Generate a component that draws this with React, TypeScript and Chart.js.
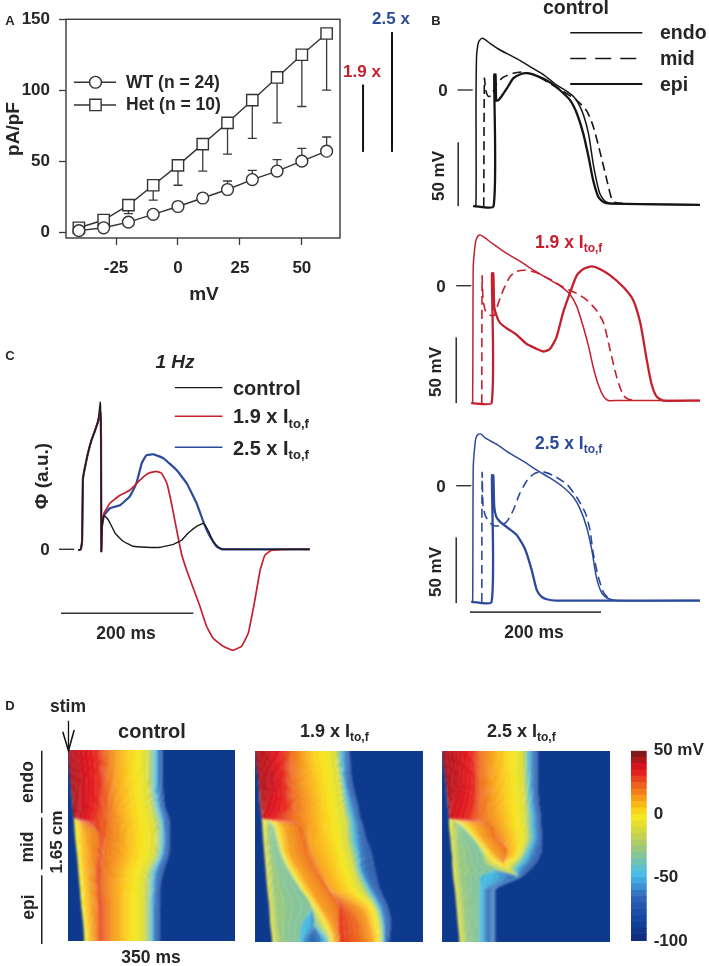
import React, { useEffect, useRef } from "react";
import { Chart, registerables } from "chart.js";
Chart.register(...registerables);

type Pair = [number, number];

/* ---------- Panel A ---------- */
const voltages = [-40, -30, -20, -10, 0, 10, 20, 30, 40, 50, 60];
const wtMean = [1, 3, 7, 12.5, 18, 24, 30, 37, 43, 50, 57];
const hetMean = [3, 8.5, 19, 33, 47, 62, 77, 93, 109, 125, 140];
const wtUpper = [null, null, 10, 15, 20, 27, 36, 43.5, 51, 59, 67];
const hetLower = [null, null, 13, 22.5, 33, 43, 55, 66, 77, 88.5, 100];
const fold19: Pair[] = [[74.7, 56.5], [74.7, 104]];
const fold25: Pair[] = [[86.4, 56.5], [86.4, 141]];
const legendWT: Pair[] = [[-42, 105.6], [-33.3, 105.6], [-25, 105.6]];
const legendHet: Pair[] = [[-42, 89.6], [-33.3, 89.6], [-25, 89.6]];

/* ---------- Panel B: [ms, mV] ---------- */
const ctrlEndo: Pair[] = [[5, -90], [9, -90], [9.2, -8], [10, 26], [12, 35], [14, 38], [18, 40], [23, 39], [31, 36], [46, 31], [61, 27], [76, 23], [92, 18], [112, 12], [132, 4], [148, -1], [158, -5], [165, -10], [173, -19], [181, -34], [188, -57], [193, -70], [198, -80], [204, -85], [209, -87], [219, -88], [351, -89]];
const ctrlMid: Pair[] = [[21, -90], [22, 9], [24, 0], [28, -5], [33, -4], [41, 5], [51, 10], [66, 13], [81, 14], [102, 11], [122, 5], [142, -1], [163, -8], [178, -16], [188, -28], [198, -47], [209, -70], [216, -84], [221, -87], [234, -88]];
const ctrlEpi: Pair[] = [[5, -90], [36, -90], [37, 12], [39, 12], [40, -8], [43, -8], [48, -5], [56, 1], [66, 9], [76, 12], [87, 13], [102, 11], [122, 6], [137, 0], [153, -8], [163, -18], [173, -34], [181, -52], [188, -70], [196, -83], [204, -87], [214, -88], [351, -89]];

const redEndo: Pair[] = [[2, -91], [4, -91], [4.5, -27], [5, 15], [7, 28], [9, 35], [13, 39], [17, 39], [23, 37], [36, 32], [56, 25], [76, 19], [97, 12], [117, 6], [137, 0], [153, -7], [163, -16], [173, -32], [181, -47], [188, -63], [196, -77], [204, -86], [211, -89], [224, -89], [351, -89]];
const redMid: Pair[] = [[18, -91], [18.5, 7.5], [20, -11], [24, -20], [31, -23], [37, -23], [43, -14], [51, -3], [61, 7], [71, 11], [84, 12], [102, 10], [122, 5], [142, -1], [163, -6], [178, -11], [193, -19], [204, -29], [214, -50], [224, -71], [234, -85], [242, -88], [254, -89]];
const redEpi: Pair[] = [[2, -91], [33, -91], [33.5, 9.6], [35.6, 9.6], [37, -16], [41, -24], [46, -29], [56, -33], [71, -38], [86, -45], [102, -49], [112, -51], [122, -49], [132, -40], [142, -21], [153, -5], [163, 8], [173, 13], [186, 15], [198, 13], [214, 8], [234, -1], [249, -11], [260, -29], [270, -58], [277, -76], [285, -86], [295, -89], [351, -89]];

const blueEndo: Pair[] = [[2, -90], [4, -90], [4.5, -27], [5, 15], [7, 29], [9, 37], [13, 40], [17, 40], [23, 37], [41, 32], [61, 25], [81, 19], [102, 12], [122, 6], [142, -1], [158, -9], [168, -18], [178, -32], [186, -50], [193, -71], [201, -83], [209, -87], [224, -89], [351, -89]];
const blueMid: Pair[] = [[18, -90], [18.5, 10], [20, -16], [24, -24], [31, -29], [37, -31], [46, -31], [56, -28], [66, -19], [76, -6], [87, 4], [97, 9], [109, 11], [127, 8], [148, 1], [163, -9], [176, -21], [183, -34], [188, -52], [196, -71], [204, -83], [211, -87]];
const blueEpi: Pair[] = [[2, -90], [33, -90], [33.5, 8], [35.6, 8], [37, -16], [40, -24], [46, -28], [56, -32], [71, -38], [84, -49], [94, -65], [102, -81], [109, -86], [117, -88], [132, -89], [351, -89]];

/* ---------- Panel C: [ms, a.u.] ---------- */
const phiRise: Pair[] = [[26, -0.01], [30, 0], [32, 0.09], [33, 0.69], [35, 0.78], [40, 0.94], [46, 1.09], [51, 1.18], [56, 1.28]];
const phiFall: Pair[] = [[60.5, 1.09], [61, -0.02], [62, 0.23]];
const phiControl: Pair[] = [[59.4, 1.47], ...phiFall, [65, 0.34], [72, 0.29], [82, 0.16], [94, 0.08], [109, 0.03], [129, 0.02], [150, 0.02], [170, 0.05], [182, 0.09], [192, 0.16], [205, 0.23], [216, 0.26], [223, 0.18], [230, 0.08], [238, 0.02], [245, 0], [376, 0]];
const phi19: Pair[] = [[59.4, 1.38], ...phiFall, [65, 0.36], [74, 0.46], [89, 0.54], [104, 0.59], [119, 0.69], [132, 0.76], [144, 0.78], [152, 0.76], [160, 0.66], [167, 0.46], [175, 0.19], [182, -0.04], [190, -0.21], [200, -0.39], [210, -0.57], [220, -0.77], [230, -0.89], [245, -0.97], [260, -1.01], [273, -0.97], [283, -0.84], [293, -0.51], [301, -0.21], [308, -0.06], [318, -0.01], [336, 0], [376, 0]];
const phi25: Pair[] = [[59.4, 1.36], ...phiFall, [65, 0.34], [74, 0.41], [89, 0.44], [104, 0.53], [114, 0.66], [122, 0.86], [129, 0.94], [140, 0.95], [155, 0.91], [175, 0.79], [190, 0.66], [205, 0.46], [216, 0.26], [225, 0.13], [235, 0.03], [243, 0], [376, 0]];

/* ---------- Panel D: isochrones, ms per depth row ---------- */
const navy = "#0e3a8e", cY = "#f6e81d", cOY = "#fbb917", cO = "#f28a1b", cRO = "#ea541e", cR = "#e2131d", cDR = "#b8141c";
const cYG = "#bdd253", cT = "#86c49a", cC = "#45b9e0", cB = "#2d5fb0";

const ctrlDepth = [0, 0.25, 0.5, 0.58, 0.62, 0.75, 0.9, 1.05, 1.2, 1.35, 1.5, 1.65];
const ctrlEdges = [
  [0, 0, 0, 0, 0, 0, 0, 0, 0, 0, 0, 0],
  [0, 5, 10, 12, 13, 15, 19, 22, 25, 28, 32, 34],
  [0, 5, 10, 12, 20, 25, 27, 30, 34, 36, 39, 41],
  [0, 5, 10, 12, 24, 38, 41, 43, 46, 48, 50, 52],
  [0, 5, 10, 12, 32, 67, 64, 60, 62, 64, 64, 64],
  [0, 5, 10, 12, 46, 67, 64, 60, 62, 64, 64, 64],
  [22, 29, 29, 22, 46, 67, 64, 60, 62, 64, 64, 64],
  [64, 67, 64, 57, 55, 67, 64, 60, 62, 64, 64, 64],
  [81, 83, 85, 85, 85, 81, 74, 74, 74, 78, 78, 78],
  [102, 102, 106, 109, 111, 113, 111, 102, 99, 99, 99, 99],
  [127, 129, 134, 137, 139, 141, 139, 127, 123, 122, 122, 122],
  [164, 165, 171, 176, 178, 181, 178, 162, 158, 157, 157, 157],
  [174, 174, 181, 186, 188, 190, 188, 171, 169, 168, 168, 168],
  [179, 179, 186, 192, 195, 196, 193, 178, 174, 172, 172, 172],
  [188, 188, 193, 199, 200, 202, 199, 185, 181, 179, 179, 179],
  [199, 199, 204, 211, 213, 214, 211, 200, 193, 193, 192, 192],
  [350, 350, 350, 350, 350, 350, 350, 350, 350, 350, 350, 350],
];
const ctrlColors = [navy, cY, cOY, cO, cRO, cDR, cR, cRO, cO, cOY, cY, cYG, cT, cC, cB, navy];
const ctrlSharp = [1, 5];

const dipColors = [navy, cY, cYG, cT, cC, cB, cC, cT, cYG, cY, cOY, cO, cRO, cDR, cR, cRO, cO, cOY, cY, cYG, cC, cB, navy];
const dipSharp = [1, 4, 13];

const x19Depth = [0, 0.25, 0.5, 0.58, 0.62, 0.75, 0.9, 1.05, 1.2, 1.35, 1.5, 1.65];
const x19Edges = [
  [0, 0, 0, 0, 0, 0, 0, 0, 0, 0, 0, 0],
  [0, 6, 10, 13, 14, 16, 19, 22, 25, 29, 31, 35],
  [0, 6, 10, 13, 21, 19, 22, 25, 28, 31, 34, 38],
  [0, 6, 10, 13, 28, 28, 31, 35, 38, 42, 45, 49],
  [0, 6, 10, 13, 29, 42, 52, 70, 94, 115, 97, 92],
  [0, 6, 10, 13, 29, 42, 52, 70, 94, 115, 122, 103],
  [0, 6, 10, 13, 29, 42, 52, 70, 94, 115, 122, 138],
  [0, 6, 10, 13, 29, 42, 52, 70, 94, 115, 122, 150],
  [0, 6, 10, 13, 29, 42, 52, 70, 94, 115, 132, 153],
  [0, 6, 10, 13, 33, 47, 57, 75, 97, 122, 141, 157],
  [0, 6, 10, 13, 40, 53, 61, 82, 103, 128, 149, 161],
  [0, 6, 10, 13, 49, 66, 73, 94, 115, 136, 157, 167],
  [0, 6, 10, 13, 77, 101, 111, 129, 153, 174, 174, 177],
  [0, 6, 10, 13, 77, 101, 111, 129, 153, 174, 174, 177],
  [31, 35, 21, 13, 77, 101, 111, 129, 153, 174, 174, 177],
  [59, 63, 66, 49, 77, 101, 111, 129, 153, 174, 174, 177],
  [77, 78, 84, 80, 87, 101, 111, 129, 153, 191, 216, 219],
  [101, 104, 115, 115, 118, 115, 125, 143, 161, 219, 237, 244],
  [122, 134, 143, 146, 146, 153, 164, 174, 191, 235, 247, 254],
  [166, 173, 181, 184, 187, 188, 195, 205, 219, 247, 258, 261],
  [175, 181, 191, 196, 198, 200, 209, 216, 233, 254, 264, 266],
  [187, 188, 203, 207, 210, 214, 219, 224, 242, 262, 270, 271],
  [198, 202, 216, 219, 223, 231, 244, 251, 261, 277, 284, 280],
  [350, 350, 350, 350, 350, 350, 350, 350, 350, 350, 350, 350],
];

const x25Depth = [0, 0.25, 0.5, 0.58, 0.62, 0.75, 0.855, 0.93, 0.98, 1.025, 1.09, 1.21, 1.5, 1.65];
const x25Edges = [
  [0, 0, 0, 0, 0, 0, 0, 0, 0, 0, 0, 0, 0, 0],
  [0, 6, 11, 13, 13, 16, 18, 20, 20, 21, 22, 26, 32, 35],
  [0, 6, 11, 13, 19, 19, 21, 22, 23, 24, 25, 29, 35, 38],
  [0, 6, 11, 13, 28, 29, 32, 33, 34, 35, 36, 40, 46, 49],
  [0, 6, 11, 13, 28, 61, 79, 86, 89, 107, 79, 77, 77, 77],
  [0, 6, 11, 13, 28, 61, 79, 86, 89, 107, 130, 89, 89, 89],
  [0, 6, 11, 13, 28, 61, 79, 86, 89, 107, 155, 103, 103, 103],
  [0, 6, 11, 13, 28, 61, 79, 86, 89, 107, 155, 103, 103, 103],
  [0, 6, 11, 13, 28, 61, 79, 86, 89, 107, 155, 103, 103, 103],
  [0, 6, 11, 13, 33, 64, 84, 96, 110, 138, 155, 103, 103, 103],
  [0, 6, 11, 13, 40, 70, 91, 105, 124, 138, 155, 103, 103, 103],
  [0, 6, 11, 13, 54, 82, 101, 117, 126, 138, 155, 103, 103, 103],
  [0, 6, 11, 13, 89, 110, 135, 131, 126, 138, 155, 103, 103, 103],
  [0, 6, 11, 13, 89, 110, 135, 131, 126, 138, 155, 103, 103, 103],
  [33, 36, 19, 13, 89, 110, 135, 131, 126, 138, 155, 103, 103, 103],
  [64, 68, 64, 57, 89, 110, 135, 131, 126, 138, 155, 103, 103, 103],
  [79, 80, 82, 79, 89, 110, 135, 131, 126, 138, 155, 103, 103, 103],
  [103, 105, 110, 114, 117, 131, 135, 131, 126, 138, 155, 103, 103, 103],
  [131, 133, 138, 142, 142, 152, 154, 145, 126, 138, 155, 103, 103, 103],
  [166, 166, 170, 170, 171, 173, 166, 157, 142, 138, 155, 103, 103, 103],
  [175, 177, 180, 182, 182, 184, 175, 166, 157, 148, 155, 103, 103, 103],
  [187, 187, 191, 194, 194, 196, 189, 182, 173, 163, 155, 103, 103, 103],
  [199, 199, 203, 206, 206, 208, 208, 201, 194, 184, 165, 110, 110, 110],
  [350, 350, 350, 350, 350, 350, 350, 350, 350, 350, 350, 350, 350, 350],
];

const stimStem: Pair[] = [[1, -0.26], [1, 0]];
const stimHead: Pair[] = [[-11, -0.165], [1, 0], [13, -0.18]];
const endoBar: Pair[] = [[-55, 0], [-55, 0.54]];
const midBar: Pair[] = [[-55, 0.58], [-55, 1.03]];
const epiBar: Pair[] = [[-55, 1.08], [-55, 1.675]];

const cbarLevels = [-100, -95, -90, -85, -80, -75, -70, -65, -60, -55, -50, -45, -40, -35, -30, -25, -20, -15, -10, -5, 0, 5, 10, 15, 20, 25, 30, 35, 40, 45, 50];
const cbarColors = ["#0f2f7e", "#10398c", "#123f96", "#16479e", "#1c4fa6", "#2457ad", "#2d62b6", "#3476c4", "#3b8fd2", "#43a8e0", "#4bbce8", "#5cc0d0", "#72c3ae", "#86c596", "#9ac97e", "#aecd66", "#c2d24f", "#d6d93c", "#e6e02c", "#f5e81e", "#f9d41a", "#f8b816", "#f59c18", "#f17e1a", "#ed611c", "#e8421d", "#e3201e", "#d4151d", "#ae171c", "#7f1a1c"];

/* ---------- helpers ---------- */
const W = 709, H = 966;
const FONT = "'Liberation Sans', Arial, sans-serif";
const INK = "#262626", RED = "#c5202e", BLUE = "#2b4a9b";

const toXY = (p: Pair[]) => p.map(([x, y]) => ({ x, y }));
const trace = (p: Pair[], color: string, width = 1.3, dash: number[] = [], tension = 0.2) => ({
  data: toXY(p), borderColor: color, borderWidth: width, borderDash: dash, pointRadius: 0,
  showLine: true, fill: false, tension, clip: false as any,
});
const box = (l: number, t: number, r: number, b: number) => ({ left: l, top: t, right: W - r, bottom: H - b });
const hiddenAxes = (xmin: number, xmax: number, ymin: number, ymax: number, rev = false) => ({
  x: { type: "linear", min: xmin, max: xmax, display: false },
  y: { type: "linear", min: ymin, max: ymax, display: false, reverse: rev },
});
const common = { responsive: false, animation: false, plugins: { legend: { display: false }, tooltip: { enabled: false } } };

function Plot({ config, blur, clip }: { config: any; blur?: number; clip?: string }) {
  const ref = useRef<HTMLCanvasElement>(null);
  useEffect(() => {
    const c = new Chart(ref.current!, config);
    return () => c.destroy();
  }, []);
  return <canvas ref={ref} width={W} height={H} style={{ position: "absolute", left: 0, top: 0, width: W, height: H, filter: blur ? `blur(${blur}px)` : undefined, clipPath: clip }} />;
}

function Txt({ x, y, size = 17, color = INK, rot = 0, align = "c", italic = false, children }: any) {
  const tx = align === "c" ? "-50%" : "0";
  return <div style={{ position: "absolute", left: x, top: y, fontFamily: FONT, fontWeight: 700, fontStyle: italic ? "italic" : "normal", fontSize: size, lineHeight: 1, color, whiteSpace: "nowrap", transform: `translate(${tx},-50%) rotate(${rot}deg)` }}>{children}</div>;
}
const Ito = ({ f, sub }: { f: string; sub: number }) => (
  <>{f} x I<span style={{ fontSize: sub, position: "relative", top: "0.35em" }}>to,f</span></>
);

/* ---------- chart configs ---------- */
const errorBars = {
  id: "errorBars",
  beforeDatasetsDraw(chart: any) {
    const { ctx, scales: { x, y } } = chart;
    ctx.save();
    ctx.strokeStyle = "#3a3a3a";
    ctx.lineWidth = 1.3;
    const draw = (means: number[], ends: (number | null)[]) => ends.forEach((e, i) => {
      if (e === null) return;
      const px = x.getPixelForValue(voltages[i]);
      ctx.beginPath();
      ctx.moveTo(px, y.getPixelForValue(means[i]));
      ctx.lineTo(px, y.getPixelForValue(e));
      ctx.moveTo(px - 4.5, y.getPixelForValue(e));
      ctx.lineTo(px + 4.5, y.getPixelForValue(e));
      ctx.stroke();
    });
    draw(wtMean, wtUpper);
    draw(hetMean, hetLower);
    ctx.restore();
  },
  afterDraw(chart: any) {
    const { ctx, chartArea: a } = chart;
    ctx.save();
    ctx.strokeStyle = "#3a3a3a";
    ctx.lineWidth = 1.4;
    ctx.strokeRect(a.left, a.top, a.right - a.left, a.bottom - a.top);
    ctx.restore();
  },
};
const tickFont = { family: FONT, weight: "bold", size: 17 };
const AXIS_W = 50, AXIS_H = 45, CBAR_W = 60;

const mk = (style: string, means: number[], r: number) => ({
  data: voltages.map((v, i) => ({ x: v, y: means[i] })),
  borderColor: "#333", borderWidth: 1.4, backgroundColor: "#fff", pointStyle: style,
  pointRadius: r, pointBackgroundColor: "#fff", pointBorderColor: "#333", pointBorderWidth: 1.4,
  showLine: true, fill: false, tension: 0, clip: false as any,
});
const mkLegend = (p: Pair[], style: string, r: number) => ({
  data: toXY(p), borderColor: "#333", borderWidth: 1.4, showLine: true, pointStyle: style,
  pointRadius: [0, r, 0], pointBackgroundColor: "#fff", pointBorderColor: "#333", pointBorderWidth: 1.4,
});

const chartA: any = {
  type: "scatter",
  data: {
    datasets: [
      mk("circle", wtMean, 5.9), mk("rect", hetMean, 8),
      mkLegend(legendWT, "circle", 5.9), mkLegend(legendHet, "rect", 8),
      trace(fold19, "#111", 2, [], 0), trace(fold25, "#111", 2, [], 0),
    ],
  },
  options: {
    ...common,
    layout: { padding: box(66 - AXIS_W, 19.3, 340, 238 + AXIS_H) },
    scales: {
      x: {
        type: "linear", min: -45.2, max: 65.4, afterFit: (s: any) => { s.height = AXIS_H; },
        grid: { drawOnChartArea: false, tickLength: 7, tickColor: "#3a3a3a", tickWidth: 1.3 },
        border: { display: false },
        ticks: { stepSize: 25, includeBounds: false, font: tickFont, color: INK, padding: 13, maxRotation: 0, autoSkip: false },
      },
      y: {
        type: "linear", min: -4.2, max: 150, afterFit: (s: any) => { s.width = AXIS_W; },
        grid: { drawOnChartArea: false, tickLength: 7, tickColor: "#3a3a3a", tickWidth: 1.3 },
        border: { display: false },
        ticks: { stepSize: 50, includeBounds: false, font: tickFont, color: INK, padding: 9, autoSkip: false },
      },
    },
  },
  plugins: [errorBars],
};

const apChart = (top: number, endo: Pair[], mid: Pair[], epi: Pair[], color: string, extras: any[] = []) => ({
  type: "scatter",
  data: {
    datasets: [
      trace(endo, color, 1.5),
      trace(mid, color, 1.6, [9, 5]),
      trace(epi, color, 2.3),
      ...extras,
    ],
  },
  options: {
    ...common,
    layout: { padding: box(470, top, 700, top + 180) },
    scales: hiddenAxes(0, 351.1, -93, 46.5),
  },
});

const zeroTick1: Pair[] = [[-19, 0], [4, 0]];
const voltBar1: Pair[] = [[-18, -90], [-18, -40.5]];
const zeroTick: Pair[] = [[-21, 0], [2, 0]];
const voltBar: Pair[] = [[-21, -91], [-21, -40]];
const timeBarB: Pair[] = [[0, -98], [200, -98]];
const legEndo: Pair[] = [[153, 44.4], [263, 44.4]];
const legMid: Pair[] = [[153, 24.5], [263, 24.5]];
const legEpi: Pair[] = [[153, 4.6], [263, 4.6]];

const chartB1: any = apChart(30, ctrlEndo, ctrlMid, ctrlEpi, "#151515", [
  trace(zeroTick1, "#333", 1.4, [], 0), trace(voltBar1, "#333", 1.6, [], 0),
  trace(legEndo, "#151515", 1.6, [], 0), trace(legMid, "#151515", 1.5, [16, 9], 0), trace(legEpi, "#151515", 2, [], 0),
]);
const chartB2: any = apChart(225.7, redEndo, redMid, redEpi, RED, [
  trace(zeroTick, "#333", 1.4, [], 0), trace(voltBar, "#333", 1.6, [], 0),
]);
const chartB3: any = apChart(425.7, blueEndo, blueMid, blueEpi, BLUE, [
  trace(zeroTick, "#333", 1.4, [], 0), trace(voltBar, "#333", 1.6, [], 0), trace(timeBarB, "#444", 1.6, [], 0),
]);

const zeroTickC: Pair[] = [[-3, 0], [20, 0]];
const timeBarC: Pair[] = [[0, -0.64], [200, -0.64]];
const legC0: Pair[] = [[172, 1.617], [244, 1.617]];
const legC1: Pair[] = [[172, 1.33], [244, 1.33]];
const legC2: Pair[] = [[172, 1.02], [244, 1.02]];

const chartC: any = {
  type: "scatter",
  data: {
    datasets: [
      trace([...phiRise, ...phiControl], "#1a1a1a", 1.4, [], 0.1),
      trace([...phiRise, ...phi19], RED, 1.7, [], 0.1),
      trace([...phiRise, ...phi25], BLUE, 2.2, [], 0.1),
      trace(zeroTickC, "#333", 1.4, [], 0), trace(timeBarC, "#333", 1.6, [], 0),
      trace(legC0, "#1a1a1a", 1.4, [], 0), trace(legC1, RED, 1.5, [], 0), trace(legC2, BLUE, 1.5, [], 0),
    ],
  },
  options: {
    ...common,
    layout: { padding: box(61, 395, 310, 660) },
    scales: hiddenAxes(0, 376.4, -1.107, 1.543),
  },
};

/* Each band between two isochrones is shaded by blending towards its neighbour colours. */
const rgb = (h: string) => [1, 3, 5].map((i) => parseInt(h.slice(i, i + 2), 16));
const hex = (c: number[]) => "#" + c.map((v) => Math.round(v).toString(16).padStart(2, "0")).join("");
const blend = (a: string, b: string, f: number) => {
  const A = rgb(a), B = rgb(b);
  return hex(A.map((v, i) => v + (B[i] - v) * f));
};
const SUB = 4;
const HEAT_W = 167, HEAT_H = 190.3, PAD_T = 5, PAD_D = 0.05;

function heat(left: number, top: number, depth: number[], edges: number[][], colors: string[], sharp: number[]): any {
  const rows = [-PAD_D, ...depth, 1.65 + PAD_D];
  const datasets: any[] = [];
  const push = (line: number[], color: string | null) => datasets.push({
    data: line.map((t, k) => ({ x: t, y: rows[k] })),
    fill: color ? "-1" : false,
    backgroundColor: color || "transparent",
    borderWidth: 0, borderColor: "transparent", pointRadius: 0, cubicInterpolationMode: "monotone",
  });
  const widen = (e: number[]) => [e[0], ...e, e[e.length - 1]];
  const last = edges.length - 1;
  push(rows.map(() => -PAD_T), null);
  colors.forEach((c, i) => {
    const a = widen(edges[i]), b = widen(edges[i + 1]);
    if (i === 0) { push(b, c); return; }
    if (i === last - 1) { push(rows.map(() => 350 + PAD_T), c); return; }
    const leftC = sharp.includes(i) ? c : blend(colors[i - 1], c, 0.5);
    const rightC = sharp.includes(i + 1) || i + 1 === last - 1 ? c : blend(c, colors[i + 1], 0.5);
    for (let k = 0; k < SUB; k++) {
      const p = (k + 0.5) / SUB;
      const col = p < 0.5 ? blend(leftC, c, p * 2) : blend(c, rightC, (p - 0.5) * 2);
      const f = (k + 1) / SUB;
      push(a.map((v, r) => v + (b[r] - v) * f), col);
    }
  });
  const mx = (PAD_T * HEAT_W) / 350, my = (PAD_D * HEAT_H) / 1.65;
  return {
    type: "line",
    data: { datasets },
    options: {
      ...common,
      indexAxis: "y",
      layout: { padding: box(left - mx, top - my, left + HEAT_W + mx, top + HEAT_H + my) },
      scales: hiddenAxes(-PAD_T, 350 + PAD_T, -PAD_D, 1.65 + PAD_D, true),
    },
  };
}
const heatClip = (left: number, top: number) => `inset(${top}px ${W - left - HEAT_W}px ${H - top - HEAT_H}px ${left}px)`;

const chartAnno: any = {
  type: "scatter",
  data: {
    datasets: [
      trace(stimStem, "#111", 1.3, [], 0), trace(stimHead, "#111", 1.5, [], 0),
      trace(endoBar, "#222", 1.5, [], 0), trace(midBar, "#222", 1.5, [], 0), trace(epiBar, "#222", 1.5, [], 0),
    ],
  },
  options: { ...common, layout: { padding: box(68, 750.7, 235, 941) }, scales: hiddenAxes(0, 350, 0, 1.65, true) },
};

const chartBar: any = {
  type: "bar",
  data: {
    labels: ["mV"],
    datasets: cbarColors.map((c, i) => ({
      data: [[cbarLevels[i], cbarLevels[i + 1]]], backgroundColor: c, borderWidth: 0,
      categoryPercentage: 1, barPercentage: 1, grouped: false,
    })),
  },
  options: {
    ...common,
    layout: { padding: box(631, 750.7, 646.7 + CBAR_W, 941) },
    scales: {
      x: { display: false },
      y: {
        type: "linear", position: "right", min: -100, max: 50, afterFit: (s: any) => { s.width = CBAR_W; },
        grid: { display: false, drawTicks: false, tickLength: 0 }, border: { display: false },
        ticks: { stepSize: 50, font: tickFont, color: INK, padding: 7, autoSkip: false, callback: (v: number) => (v === 50 ? "50 mV" : String(v)) },
      },
    },
  },
};

export default function App() {
  return (
    <div style={{ position: "absolute", left: 0, top: 0, width: W, height: H, background: "#fff", overflow: "hidden" }}>
      <Plot config={chartA} />
      <Plot config={chartB1} />
      <Plot config={chartB2} />
      <Plot config={chartB3} />
      <Plot config={chartC} />
      <Plot config={heat(68, 750.7, ctrlDepth, ctrlEdges, ctrlColors, ctrlSharp)} blur={1} clip={heatClip(68, 750.7)} />
      <Plot config={heat(255.5, 751, x19Depth, x19Edges, dipColors, dipSharp)} blur={1} clip={heatClip(255.5, 751)} />
      <Plot config={heat(442.7, 751, x25Depth, x25Edges, dipColors, dipSharp)} blur={1} clip={heatClip(442.7, 751)} />
      <Plot config={chartBar} blur={0.6} />
      <Plot config={chartAnno} />

      <Txt x={10} y={20} size={13}>A</Txt>
      <Txt x={204} y={293} size={19}>mV</Txt>
      <Txt x={12} y={129} size={19} rot={-90}>pA/pF</Txt>
      <Txt x={126} y={82.5} size={17.5} align="l">WT (n = 24)</Txt>
      <Txt x={126} y={105} size={17.5} align="l">Het (n = 10)</Txt>
      <Txt x={362} y={71} color={RED}>1.9 x</Txt>
      <Txt x={391} y={18} color={BLUE}>2.5 x</Txt>

      <Txt x={436} y={20} size={13}>B</Txt>
      <Txt x={576} y={8} size={19.5}>control</Txt>
      <Txt x={660} y={33} size={19.5} align="l">endo</Txt>
      <Txt x={660} y={58.5} size={19.5} align="l">mid</Txt>
      <Txt x={660} y={84.5} size={19.5} align="l">epi</Txt>
      <Txt x={443} y={90}>0</Txt>
      <Txt x={438} y={176} rot={-90}>50 mV</Txt>
      <Txt x={535} y={242.7} size={17.5} color={RED} align="l"><Ito f="1.9" sub={12} /></Txt>
      <Txt x={441} y={285.7}>0</Txt>
      <Txt x={435} y={372} rot={-90}>50 mV</Txt>
      <Txt x={535} y={444} size={17.5} color={BLUE} align="l"><Ito f="2.5" sub={12} /></Txt>
      <Txt x={441} y={485.7}>0</Txt>
      <Txt x={435} y={572} rot={-90}>50 mV</Txt>
      <Txt x={534} y={633} size={17.5}>200 ms</Txt>

      <Txt x={10} y={355} size={13}>C</Txt>
      <Txt x={175} y={361} size={19} italic>1 Hz</Txt>
      <Txt x={233} y={388} size={20} align="l">control</Txt>
      <Txt x={233} y={416} size={20} align="l"><Ito f="1.9" sub={13} /></Txt>
      <Txt x={233} y={447.5} size={20} align="l"><Ito f="2.5" sub={13} /></Txt>
      <Txt x={41} y={476} size={19} rot={-90}>Φ (a.u.)</Txt>
      <Txt x={45} y={549}>0</Txt>
      <Txt x={126} y={634} size={17.5}>200 ms</Txt>

      <Txt x={10} y={705} size={13}>D</Txt>
      <Txt x={68} y={707} size={17.5}>stim</Txt>
      <Txt x={152} y={731} size={20}>control</Txt>
      <Txt x={300} y={731} size={18} align="l"><Ito f="1.9" sub={12} /></Txt>
      <Txt x={487} y={731} size={18} align="l"><Ito f="2.5" sub={12} /></Txt>
      <Txt x={28} y={782} size={17.5} rot={-90}>endo</Txt>
      <Txt x={28} y={847} size={17.5} rot={-90}>mid</Txt>
      <Txt x={29} y={907} size={17.5} rot={-90}>epi</Txt>
      <Txt x={57} y={842} size={17.2} rot={-90}>1.65 cm</Txt>
      <Txt x={151} y={958} size={17.5}>350 ms</Txt>
    </div>
  );
}
